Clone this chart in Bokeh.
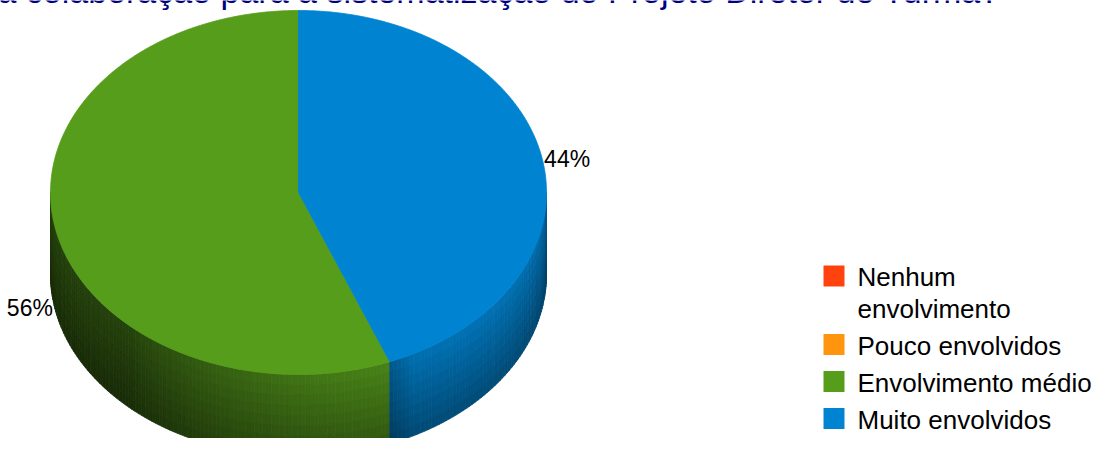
import textwrap
import numpy as np
from bokeh.plotting import figure
from bokeh.models import Range1d, ColumnDataSource
from bokeh.core.properties import value
from bokeh.embed import file_html
from bokeh.resources import INLINE

# ---- data ----
title_text = "a colaboração para a sistematização do Projeto Diretor de Turma?"
categories = ["Nenhum envolvimento", "Pouco envolvidos", "Envolvimento médio", "Muito envolvidos"]
values = [0, 0, 56, 44]
colors = ["#ff420e", "#ff950e", "#579d1c", "#0084d1"]

FONT = value("Liberation Sans")

W, H = 1097, 438
p = figure(width=W, height=H, x_range=Range1d(0, W), y_range=Range1d(H, 0),
           x_axis_type=None, y_axis_type=None, output_backend="svg",
           toolbar_location=None, min_border=0)
p.grid.visible = False
p.outline_line_color = None
p.background_fill_color = "white"
p.border_fill_color = "white"

# title (cut off at the top, as in the reference)
TS = 34
p.text(x=[-3], y=[9], text=[title_text], text_font=FONT,
       text_font_size="%dpx" % TS, text_color="#000080", text_baseline="bottom",
       text_align="left")

# ---- 3D pie geometry ----
cx, cy, a, b, depth = 298.0, 192.0, 248.0, 182.0, 82.0
vals = np.array(values, dtype=float)
fracs = vals / vals.sum()
starts = 90.0 + 360.0 * np.concatenate([[0], np.cumsum(fracs)[:-1]])
ends = starts + 360.0 * fracs


def hex2rgb(h):
    h = h.lstrip("#")
    return np.array([int(h[i:i + 2], 16) for i in (0, 2, 4)], dtype=float)


def rgb2hex(c):
    c = np.clip(np.round(c), 0, 255).astype(int)
    return "#%02x%02x%02x" % tuple(c)


def pt(t_deg, h=0.0):
    t = np.radians(t_deg)
    return cx + a * np.cos(t), cy - b * np.sin(t) + h


# side walls (front half), shaded in thin strips
wxs, wys, wcol = [], [], []
nb = 8
for i in range(len(values)):
    if fracs[i] <= 0:
        continue
    base = hex2rgb(colors[i])
    s, e = starts[i], ends[i]
    for k in (0.0, 360.0):
        lo, hi = max(s, 180.0 + k), min(e, 360.0 + k)
        if hi <= lo:
            continue
        n = max(2, int(np.ceil(hi - lo)))
        ts = np.linspace(lo, hi, n + 1)
        for j in range(n):
            t0, t1 = ts[j], ts[j + 1]
            tm = 0.5 * (t0 + t1)
            phi = np.radians(tm - 360.0 - k + 45.0)
            A = 0.42 + 0.45 * max(0.0, np.cos(phi))
            ds = tm - s
            if ds < 6 and s > 100:
                A *= 0.8 + 0.2 * ds / 6.0
            for v in range(nb):
                h0, h1 = depth * v / nb, depth * (v + 1) / nb
                vm = (v + 0.5) / nb
                f = A * (1 - 0.35 * vm)
                x0, y0 = pt(t0, h0)
                x1, y1 = pt(t1, h0)
                x2, y2 = pt(t1, h1)
                x3, y3 = pt(t0, h1)
                wxs.append([x0, x1, x2, x3])
                wys.append([y0, y1, y2, y3])
                wcol.append(rgb2hex(base * f))

p.patches(xs="xs", ys="ys", fill_color="c", line_color="c", line_width=0.8,
          source=ColumnDataSource(dict(xs=wxs, ys=wys, c=wcol)))

# top surface
txs, tys, tcol = [], [], []
for i in range(len(values)):
    if fracs[i] <= 0:
        continue
    ts = np.linspace(starts[i], ends[i], max(3, int(ends[i] - starts[i]) * 2))
    px, py = pt(ts)
    txs.append([cx] + list(px))
    tys.append([cy] + list(py))
    tcol.append(colors[i])
p.patches(xs="xs", ys="ys", fill_color="c", line_color="c", line_width=0.8,
          source=ColumnDataSource(dict(xs=txs, ys=tys, c=tcol)))

# percentage labels
for i in range(len(values)):
    if fracs[i] <= 0:
        continue
    m = 0.5 * (starts[i] + ends[i])
    cm = np.cos(np.radians(m))
    lx, ly = pt(m, depth * (1 - cm) / 2)
    right = cm > 0
    p.text(x=[lx + (2 if right else -2)], y=[ly], text=["%d%%" % round(fracs[i] * 100)],
           text_font=FONT, text_font_size="23px", text_color="black",
           text_align="left" if right else "right", text_baseline="middle")

# legend
LS = 26
ly = 286.0
sq_x, sq, tx = 833.5, 21, 857
for i, cat in enumerate(categories):
    lines = textwrap.wrap(cat, 18)
    p.rect(x=[sq_x], y=[ly - sq / 2], width=sq, height=sq, fill_color=colors[i], line_color=None)
    p.text(x=[tx] * len(lines), y=[ly + 31.5 * j - 0.35 * LS for j in range(len(lines))],
           text=lines, text_font=FONT, text_font_size="%dpx" % LS, text_color="black",
           text_align="left", text_baseline="middle")
    ly += 31.5 * (len(lines) - 1) + 37

open("out.html", "w").write(file_html(p, INLINE))
